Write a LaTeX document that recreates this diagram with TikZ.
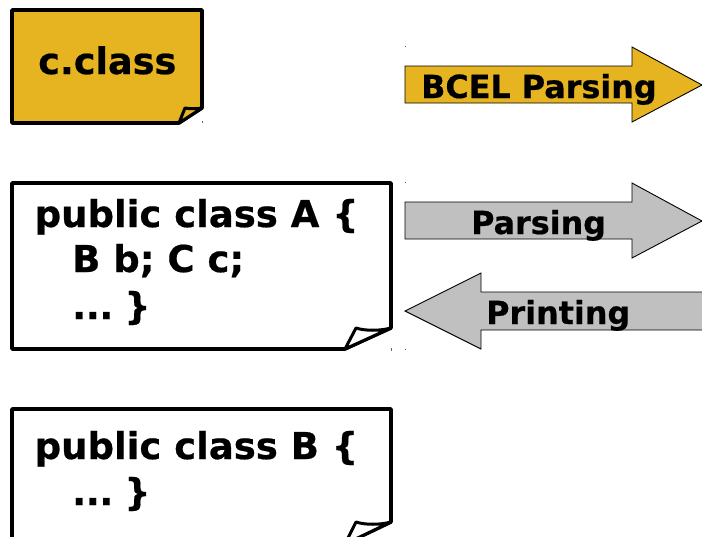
\documentclass[tikz,border=0pt]{standalone}
\usepackage{fontspec}
\setmainfont{DejaVu Sans}[BoldFeatures={FakeBold=0.5}]
\definecolor{gold}{RGB}{230,180,32}
\definecolor{arrowgray}{RGB}{192,192,192}
\newcommand{\tightdots}{.\kern-0.5pt.\kern-0.5pt.\kern-2pt}
\tikzset{
  note/.style={draw=black,line width=3.6pt,line join=round},
  foldline/.style={draw=black,line width=3pt,line join=round,line cap=round},
  blockarrow/.style={draw=black,line width=0.9pt,line join=miter},
  lbl/.style={font=\bfseries,inner sep=0pt,text=black,anchor=base west},
  biglbl/.style={lbl,font=\bfseries\fontsize{37}{37}\selectfont},
  arrowlbl/.style={lbl,font=\bfseries\fontsize{31.8}{32}\selectfont},
  speck/.style={draw=black!60,line width=1pt}
}
\begin{document}
\begin{tikzpicture}[x=1pt,y=-1pt]
\useasboundingbox (0,0) rectangle (702,536);
% c.class note
\path[note,fill=gold] (12,10) -- (202,10) -- (202,108) -- (179,123) -- (12,123) -- cycle;
\path[foldline,fill=gold] (179,123) -- (185,108) .. controls (190,109) and (196,109) .. (202,108) -- cycle;
\node[biglbl,font=\bfseries\fontsize{36.6}{37}\selectfont] (cclass) at (38,74) {c.class};
% class A note
\path[note,fill=white] (12,183) -- (391,183) -- (391,328) -- (345,349) -- (12,349) -- cycle;
\path[foldline,fill=white] (345,349) -- (356,328) .. controls (365,331) and (380,331) .. (391,328) -- cycle;
\node[biglbl] (a1) at (34.5,227) {public class A \{};
\node[biglbl] (a2) at (72,272) {B b; C c;};
\node[biglbl] (a3) at (72,319) {\tightdots\ \}};
% class B note
\path[note,fill=white] (12,409) -- (391,409) -- (391,522) -- (345,544) -- (12,544) -- cycle;
\begin{scope}
\clip (0,0) rectangle (702,536);
\path[foldline,fill=white] (345,544) -- (356,522) .. controls (365,525) and (380,525) .. (391,522) -- cycle;
\end{scope}
\node[biglbl] (b1) at (34.5,459) {public class B \{};
\node[biglbl] (b2) at (72,505) {\tightdots\ \}};
% arrows
\path[blockarrow,fill=gold] (405,66) -- (632,66) -- (632,47) -- (702,85) -- (632,122) -- (632,103) -- (405,103) -- cycle;
\node[arrowlbl] (bcel) at (421,98) {BCEL Parsing};
\path[blockarrow,fill=arrowgray] (405,202) -- (632,202) -- (632,183) -- (702,221) -- (632,258) -- (632,239) -- (405,239) -- cycle;
\node[arrowlbl] (parsing) at (471,234) {Parsing};
\path[blockarrow,fill=arrowgray] (705,292) -- (481,292) -- (481,273) -- (405,311) -- (481,349) -- (481,330) -- (705,330) -- cycle;
\node[arrowlbl] (printing) at (486,324) {Printing};
% specks
\draw[speck] (405.5,46) -- (405.5,47);
\draw[speck] (405.5,182) -- (405.5,183);
\draw[speck] (405.5,349) -- (405.5,350);
\draw[speck] (391,348) -- (391,351);
\draw[speck] (202.5,121) -- (202.5,123);
\end{tikzpicture}
\end{document}
